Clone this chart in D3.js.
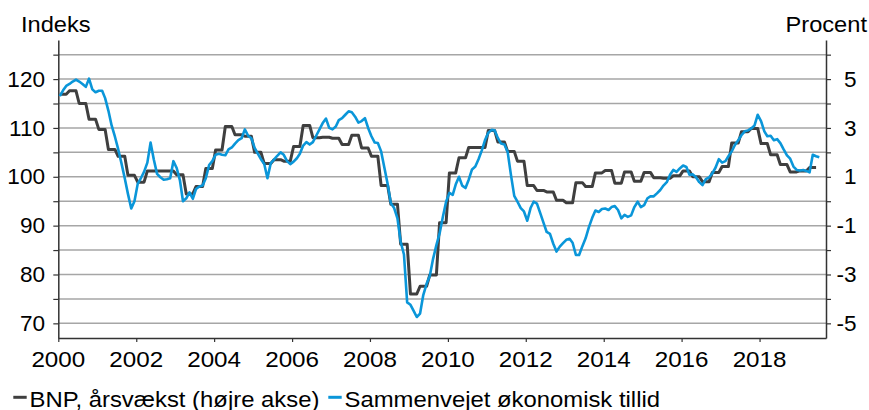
<!DOCTYPE html>
<html>
<head>
<meta charset="utf-8">
<script src="https://cdn.jsdelivr.net/npm/d3@7"></script>
<style>
  body { margin: 0; background: #fff; }
  svg { display: block; }
  text { font-family: "Liberation Sans", Arial, sans-serif; fill: #000; }
</style>
</head>
<body>
<div id="chart"></div>
<script>
// Sammenvejet økonomisk tillid, indeks, månedlig fra jan 2000
const tillid = [
  116.5, 117.7, 118.6, 119.0, 119.5, 119.9, 119.5, 119.0, 118.4, 120.1, 117.9, 117.3, // 2000
  117.6, 117.6, 116.1, 113.5, 110.5, 108.2, 105.7, 102.8, 99.7, 96.5, 93.5, 95.0,     // 2001
  98.6, 99.8, 101.0, 102.9, 107.0, 103.5, 100.6, 99.9, 99.4, 99.5, 99.7, 103.2,       // 2002
  101.8, 99.2, 95.0, 95.6, 96.8, 95.5, 97.5, 98.0, 98.2, 99.7, 102.4, 103.2,          // 2003
  104.5, 104.7, 104.5, 104.4, 105.6, 106.0, 106.8, 107.5, 107.9, 109.7, 108.4, 107.9, // 2004
  105.9, 104.7, 103.6, 102.6, 99.7, 102.8, 103.5, 104.3, 105.0, 104.5, 103.2, 102.6,  // 2005
  103.1, 103.8, 104.7, 106.4, 107.1, 106.6, 107.1, 108.4, 109.7, 111.0, 111.9, 110.0, // 2006
  109.7, 110.3, 111.6, 112.0, 112.7, 113.4, 113.2, 112.3, 111.1, 111.4, 112.0, 110.0, // 2007
  108.3, 107.0, 106.9, 105.2, 101.9, 98.5, 94.6, 93.6, 91.5, 86.7, 84.1, 74.3,        // 2008
  73.8, 72.5, 71.3, 72.0, 75.8, 78.1, 79.7, 83.2, 86.0, 88.4, 91.8, 94.9,             // 2009
  96.7, 96.3, 98.4, 100.0, 98.2, 97.7, 99.4, 101.5, 102.1, 103.6, 105.4, 107.5,       // 2010
  109.0, 109.6, 109.5, 107.9, 106.8, 106.6, 105.1, 100.4, 96.1, 94.9, 93.6, 92.9,     // 2011
  91.0, 93.6, 94.9, 94.5, 92.6, 90.6, 88.7, 88.3, 86.3, 84.7, 85.7, 86.4,             // 2012
  87.1, 87.3, 86.5, 84.0, 84.0, 85.8, 87.4, 89.7, 91.6, 93.1, 92.8, 93.4,             // 2013
  93.5, 93.2, 93.8, 94.0, 93.2, 91.5, 92.2, 91.8, 92.1, 93.8, 94.9, 93.8,             // 2014
  94.2, 95.6, 96.0, 96.0, 96.6, 97.3, 98.2, 98.9, 100.4, 101.4, 101.0, 101.7,         // 2015
  102.3, 102.0, 100.4, 100.5, 99.9, 98.9, 98.3, 99.5, 99.9, 100.7, 101.9, 103.6,      // 2016
  102.9, 103.2, 104.2, 105.2, 106.5, 107.5, 108.5, 109.3, 109.5, 109.9, 110.5, 112.7, // 2017
  111.4, 109.3, 108.3, 108.4, 107.5, 107.7, 106.9, 105.6, 104.4, 103.7, 102.1, 101.4, // 2018
  101.3, 101.4, 101.2, 100.9, 104.5, 104.2, 104.0                                     // 2019
];

// BNP, årsvækst i pct., kvartalsvis fra 2000K1 (højre akse)
const bnpKvartal = [
  4.38, 4.52, 4.0, 3.36,    // 2000
  2.94, 2.12, 1.84, 1.06,   // 2001
  0.78, 1.24, 1.24, 1.24,   // 2002
  1.08, 0.3, 0.6, 1.34,     // 2003
  2.1, 3.06, 2.72, 2.66,    // 2004
  2.0, 1.54, 1.7, 1.64,     // 2005
  2.24, 3.1, 2.6, 2.62,     // 2006
  2.58, 2.32, 2.7, 2.18,    // 2007
  1.84, 0.64, -0.12, -1.76, // 2008
  -3.8, -3.48, -3.02, -0.88,// 2009
  1.16, 1.78, 2.2, 2.2,     // 2010
  2.9, 2.42, 2.04, 1.64,    // 2011
  0.64, 0.44, 0.38, 0.04,   // 2012
  -0.06, 0.76, 0.6, 1.16,   // 2013
  1.26, 0.74, 1.2, 0.82,    // 2014
  1.18, 0.96, 0.94, 1.04,   // 2015
  1.24, 1.0, 0.8, 1.18,     // 2016
  1.42, 2.38, 2.84, 2.98,   // 2017
  2.36, 1.9, 1.5, 1.2,      // 2018
  1.24, 1.38                // 2019
];

const aarTicks = [2000, 2002, 2004, 2006, 2008, 2010, 2012, 2014, 2016, 2018];
const venstreTicks = [70, 75, 80, 85, 90, 95, 100, 105, 110, 115, 120, 125];
const venstreLabels = [70, 80, 90, 100, 110, 120];
const hoejreTicks = [-5, -4, -3, -2, -1, 0, 1, 2, 3, 4, 5, 6];
const hoejreLabels = [-5, -3, -1, 1, 3, 5];

const W = 869, H = 410;
const plotLeft = 58.3, plotRight = 826, plotTop = 40, plotBottom = 338;
const axisColor = '#333333';
const gridColor = '#a6a6a6';
const blue = '#0a96d9';
const grey = '#3f3f3f';

const svg = d3.select('#chart').append('svg')
  .attr('width', W)
  .attr('height', H);

const x = d3.scaleTime()
  .domain([new Date(2000, 0, 1), new Date(2019, 8, 16)])
  .range([plotLeft, plotRight]);
const yL = d3.scaleLinear().domain([67, 128]).range([plotBottom, plotTop]);
const yR = d3.scaleLinear().domain([-5.6, 6.6]).range([plotBottom, plotTop]);

// stretched text helper (the original font runs a little wide)
function label(g, txt, tx, ty, size, anchor, sx) {
  return g.append('text')
    .attr('transform', `translate(${tx},${ty}) scale(${sx},1)`)
    .attr('text-anchor', anchor)
    .attr('font-size', size + 'px')
    .text(txt);
}

// gridlines
svg.append('g')
  .selectAll('line')
  .data(venstreTicks)
  .join('line')
  .attr('x1', plotLeft)
  .attr('x2', plotRight)
  .attr('y1', d => yL(d))
  .attr('y2', d => yL(d))
  .attr('stroke', gridColor)
  .attr('stroke-width', 1.5);

// axes
const styleAxis = g => {
  g.select('.domain').attr('stroke', axisColor).attr('stroke-width', 1.5);
  g.selectAll('.tick line').attr('stroke', axisColor).attr('stroke-width', 1.2);
  g.selectAll('.tick text').remove();
};

svg.append('g')
  .attr('transform', `translate(${plotLeft},0)`)
  .call(d3.axisLeft(yL).tickValues(venstreTicks).tickSize(5).tickSizeOuter(0).tickFormat(''))
  .call(styleAxis);

svg.append('g')
  .attr('transform', `translate(${plotRight},0)`)
  .call(d3.axisRight(yR).tickValues(hoejreTicks).tickSize(5).tickSizeOuter(0).tickFormat(''))
  .call(styleAxis);

svg.append('g')
  .attr('transform', `translate(0,${plotBottom})`)
  .call(d3.axisBottom(x).tickValues(aarTicks.map(a => new Date(a, 0, 1))).tickSize(4).tickSizeOuter(0).tickFormat(''))
  .call(styleAxis);

// tick labels
const lbl = svg.append('g');
venstreLabels.forEach(v => label(lbl, v, 45, yL(v) + 7.6, 21.5, 'end', 1.05));
hoejreLabels.forEach(v => label(lbl, String(v), 856.5, yR(v) + 7.6, 21.5, 'end', 1.05));
aarTicks.forEach(a => label(lbl, a, x(new Date(a, 0, 1)), 367.3, 22, 'middle', 1.1));

// axis titles
label(lbl, 'Indeks', 21, 32.3, 21.5, 'start', 1.1);
label(lbl, 'Procent', 867, 32.3, 21.5, 'end', 1.1);

// series
const bnpPoints = [];
bnpKvartal.forEach((v, q) => {
  for (let k = 0; k < 3; k++) bnpPoints.push({ date: new Date(2000, q * 3 + k, 15), v });
});
const tillidPoints = tillid.map((v, m) => ({ date: new Date(2000, m, 15), v }));

svg.append('path')
  .datum(bnpPoints)
  .attr('fill', 'none')
  .attr('stroke', grey)
  .attr('stroke-width', 3)
  .attr('stroke-linejoin', 'round')
  .attr('d', d3.line().x(d => x(d.date)).y(d => yR(d.v)));

svg.append('path')
  .datum(tillidPoints)
  .attr('fill', 'none')
  .attr('stroke', blue)
  .attr('stroke-width', 2.6)
  .attr('stroke-linejoin', 'round')
  .attr('d', d3.line().x(d => x(d.date)).y(d => yL(d.v)));

// legend
const leg = svg.append('g');
leg.append('line').attr('x1', 13.3).attr('x2', 26.7).attr('y1', 397.3).attr('y2', 397.3)
  .attr('stroke', grey).attr('stroke-width', 3);
label(leg, 'BNP, årsvækst (højre akse)', 29.5, 406.5, 21.5, 'start', 1.11);
leg.append('line').attr('x1', 328.3).attr('x2', 341.7).attr('y1', 397.3).attr('y2', 397.3)
  .attr('stroke', blue).attr('stroke-width', 3);
label(leg, 'Sammenvejet økonomisk tillid', 344.5, 406.5, 21.5, 'start', 1.11);
</script>
</body>
</html>
